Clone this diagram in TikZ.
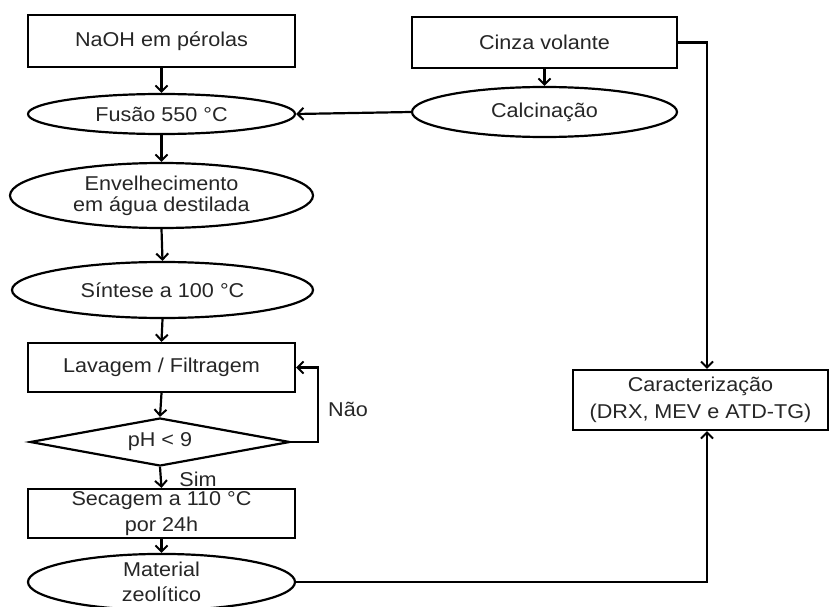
\documentclass[tikz,border=0pt]{standalone}
\usepackage{fontspec}
\setmainfont[FakeStretch=1.08]{Liberation Sans}
\usetikzlibrary{shapes.geometric,arrows.meta}
\begin{document}
\begin{tikzpicture}[x=1pt,y=-1pt,
  every node/.style={text=black!85,font=\fontsize{20}{24}\selectfont,inner sep=0pt,align=center},
  boxr/.style={draw=black,line width=2.2pt,rectangle},
  boxe/.style={draw=black,line width=2.2pt,ellipse},
  boxd/.style={draw=black,line width=2.2pt,diamond,aspect=5.4},
  arr/.style={draw=black,line width=2.2pt,-{Straight Barb[length=6pt,width=12pt,line width=2pt]}},
  ln/.style={draw=black,line width=2.2pt}]
\useasboundingbox (0,0) rectangle (829,607);
\node[boxr,minimum width=267pt,minimum height=52pt] (naoh) at (161.5,41) {NaOH em pérolas};
\node[boxe,minimum width=267pt,minimum height=40pt] (fusao) at (161.5,114) {Fusão 550 °C};
\node[boxe,minimum width=303pt,minimum height=65pt,font=\fontsize{20}{21}\selectfont] (env) at (161.5,195.5) {Envelhecimento\\em água destilada};
\node[boxe,minimum width=301pt,minimum height=56pt] (sint) at (162.5,290) {Síntese a 100 °C};
\node[boxr,minimum width=267pt,minimum height=49pt] (lav) at (161.5,367.5) {Lavagem / Filtragem};
\node[boxd,minimum width=260pt,minimum height=48pt] (ph) at (160,442) {pH < 9};
\node[boxr,minimum width=267pt,minimum height=49pt,font=\fontsize{20}{26}\selectfont] (sec) at (161.5,513.5) {Secagem a 110 °C\\por 24h};
\node[boxe,minimum width=267pt,minimum height=46pt,font=\fontsize{20}{25}\selectfont] (mat) at (161.5,582) {Material\\zeolítico};
\node[boxr,minimum width=265pt,minimum height=51pt] (cinza) at (544.5,42.5) {Cinza volante};
\node[boxe,minimum width=265pt,minimum height=50pt] (calc) at (544.5,112) {Calcinação};
\node[boxr,minimum width=255pt,minimum height=60pt,font=\fontsize{20}{27}\selectfont] (carac) at (700.5,400) {Caracterização\\(DRX, MEV e ATD-TG)};
\node (nao) at (348,409) {Não};
\node (sim) at (198,479) {Sim};
\coordinate (j) at (707,42.5);
\coordinate (nl) at (318,442);
\draw[arr] (naoh.south) -- (fusao.north);
\draw[arr] (fusao.south) -- (env.north);
\draw[arr] (env.south) -- (sint.north);
\draw[arr] (sint.south) -- (lav.north);
\draw[arr] (lav.south) -- (ph.north);
\draw[arr] (ph.south) -- (sec.north);
\draw[arr] (sec.south) -- (mat.north);
\draw[arr] (cinza.south) -- (calc.north);
\draw[arr] (calc.west) -- (fusao.east);
\draw[arr] (ph.east) -- (nl) |- (lav.east);
\draw[arr] (cinza.east) -- (j) -- (j |- carac.north);
\draw[arr] (mat.east) -- (mat.east -| j) -- (j |- carac.south);
\end{tikzpicture}
\end{document}
